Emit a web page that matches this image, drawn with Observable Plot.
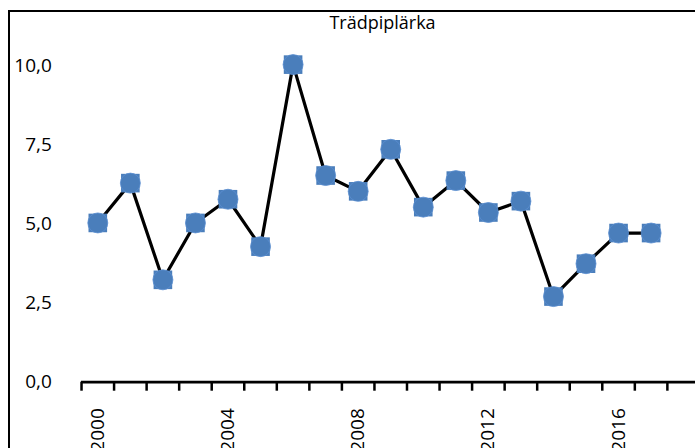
<!DOCTYPE html>
<html>
<head>
<meta charset="utf-8">
<script src="https://cdn.jsdelivr.net/npm/d3@7"></script>
<script src="https://cdn.jsdelivr.net/npm/@observablehq/plot@0.6"></script>
<style>
  html, body { margin: 0; padding: 0; background: #fff; }
  #wrap { position: relative; width: 695px; height: 448px; overflow: hidden; }
  #frame { position: absolute; left: 8px; top: 10px; width: 800px; height: 600px;
           border-left: 2px solid #000; border-top: 2px solid #000; box-sizing: border-box; pointer-events: none; }
  #title { height: 40px; width: 695px; box-sizing: border-box; padding-left: 70px; padding-top: 11px;
           text-align: center; font-family: "Open Sans", sans-serif; font-size: 18px; color: #000; line-height: 22px; }
  svg { display: block; }
</style>
</head>
<body>
<div id="wrap">
  <div id="title">Trädpiplärka</div>
  <div id="chart"></div>
  <div id="frame"></div>
</div>
<script>
const years = [2000, 2001, 2002, 2003, 2004, 2005, 2006, 2007, 2008, 2009, 2010, 2011, 2012, 2013, 2014, 2015, 2016, 2017];
const values = [5.04, 6.30, 3.24, 5.04, 5.79, 4.29, 10.05, 6.54, 6.04, 7.37, 5.54, 6.38, 5.37, 5.73, 2.71, 3.75, 4.72, 4.72];
const yTicks = [0, 2.5, 5, 7.5, 10];
const yTickLabels = ["0,0", "2,5", "5,0", "7,5", "10,0"];
const xLabelYears = [2000, 2004, 2008, 2012, 2016];
const xBoundaries = [1999.5, 2000.5, 2001.5, 2002.5, 2003.5, 2004.5, 2005.5, 2006.5, 2007.5, 2008.5, 2009.5, 2010.5, 2011.5, 2012.5, 2013.5, 2014.5, 2015.5, 2016.5, 2017.5, 2018.5];

const data = years.map((y, i) => ({year: y, value: values[i]}));
const blue = "#4a7ebb";
const font = "Open Sans, sans-serif";

const chart = Plot.plot({
  width: 695,
  height: 408,
  marginTop: 25.7,
  marginBottom: 66.3,
  marginLeft: 97.3,
  marginRight: 44.4,
  style: {fontFamily: font, fontSize: "19px", color: "#000", background: "transparent", overflow: "visible"},
  x: {domain: [2000, 2017]},
  y: {domain: [0, 10]},
  marks: [
    Plot.axisY({ticks: yTicks, tickFormat: d => yTickLabels[yTicks.indexOf(d)], tickSize: 0, tickPadding: 46, label: null, fontSize: 19}),
    Plot.axisX({ticks: xBoundaries, tickFormat: () => "", tickSize: 9, strokeWidth: 2.5, label: null}),
    Plot.axisX({ticks: xLabelYears, tickFormat: d => String(d), tickSize: 0, tickPadding: 26, tickRotate: -90, label: null, fontSize: 19}),
    Plot.ruleY([0], {x1: 1999.5, x2: 2018.5, stroke: "#000", strokeWidth: 2.8}),
    Plot.line(data, {x: "year", y: "value", stroke: "#000", strokeWidth: 3.2}),
    Plot.dot(data, {x: "year", y: "value", symbol: "square", r: 10.5, fill: blue}),
    Plot.dot(data, {x: "year", y: "value", symbol: "circle", r: 10, fill: blue, stroke: "#5a8ed0", strokeWidth: 0.8})
  ]
});
document.getElementById("chart").appendChild(chart);
</script>
</body>
</html>
